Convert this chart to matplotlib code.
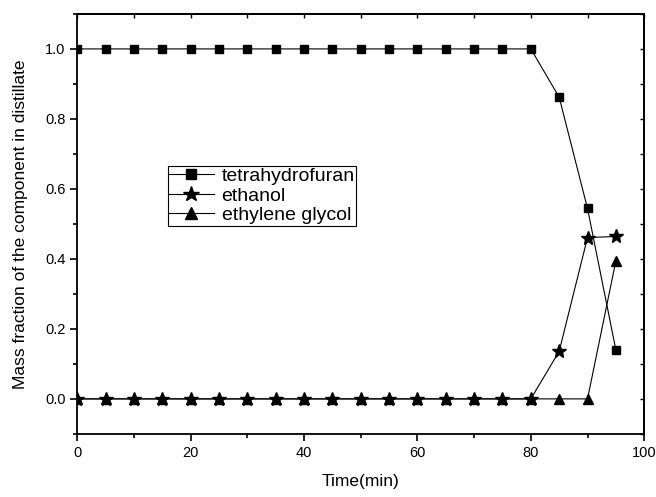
import numpy as np
import matplotlib
matplotlib.use('Agg')
import matplotlib.pyplot as plt
from matplotlib.ticker import MultipleLocator, FormatStrFormatter

plt.rcParams['font.family'] = ['Liberation Sans', 'DejaVu Sans']

#--- Data ---------------------------------------------------------------------
time = [0, 5, 10, 15, 20, 25, 30, 35, 40, 45, 50, 55, 60, 65, 70, 75, 80, 85, 90, 95]
thf = [1.0]*17 + [0.862, 0.544, 0.140]
ethanol = [0.0]*17 + [0.136, 0.461, 0.464]
glycol = [0.0]*19 + [0.394]

#--- Plot ---------------------------------------------------------------------
fig = plt.figure(figsize=(6.56, 4.97), dpi=100)
ax = fig.add_axes([0.118, 0.127, 0.864, 0.845])

ax.plot(time, thf, color='k', lw=0.8, marker='s', ms=6, label='tetrahydrofuran', zorder=4)
ax.plot(time, ethanol, color='k', lw=0.8, marker='*', ms=10, label='ethanol', zorder=3)
ax.plot(time, glycol, color='k', lw=0.8, marker='^', ms=7, label='ethylene glycol', zorder=2)

ax.set_xlim(0, 100)
ax.set_ylim(-0.1, 1.1)
ax.xaxis.set_major_locator(MultipleLocator(20))
ax.xaxis.set_minor_locator(MultipleLocator(10))
ax.yaxis.set_major_locator(MultipleLocator(0.2))
ax.yaxis.set_minor_locator(MultipleLocator(0.1))
ax.yaxis.set_major_formatter(FormatStrFormatter('%.1f'))

ax.tick_params(which='both', direction='out', top=False, right=False, labelsize=10.5)
ax.tick_params(which='major', length=5, width=1.2)
ax.tick_params(which='minor', length=3, width=1.2)

# inward ticks on top and right
ax_top = ax.secondary_xaxis('top')
ax_top.xaxis.set_major_locator(MultipleLocator(10))
ax_top.tick_params(direction='in', length=3, width=1.0, labeltop=False)
ax_right = ax.secondary_yaxis('right')
ax_right.yaxis.set_major_locator(MultipleLocator(0.1))
ax_right.tick_params(direction='in', length=3, width=1.0, labelright=False)

for s in ax.spines.values():
    s.set_linewidth(1.3)
ax_top.spines['top'].set_linewidth(1.3)
ax_right.spines['right'].set_linewidth(1.3)

ax.set_xlabel('Time(min)', fontsize=12.5, labelpad=10)
ax.set_ylabel('Mass fraction of the component in distillate', fontsize=12.5, labelpad=12)

leg = ax.legend(loc='upper left', bbox_to_anchor=(0.159, 0.638), fontsize=14,
                frameon=True, fancybox=False, edgecolor='k', framealpha=1,
                borderpad=0.08, labelspacing=0.1, handlelength=2.3,
                handletextpad=0.4, borderaxespad=0, markerscale=1.15)
leg.get_frame().set_linewidth(0.8)

plt.savefig('out.png', dpi=100)
